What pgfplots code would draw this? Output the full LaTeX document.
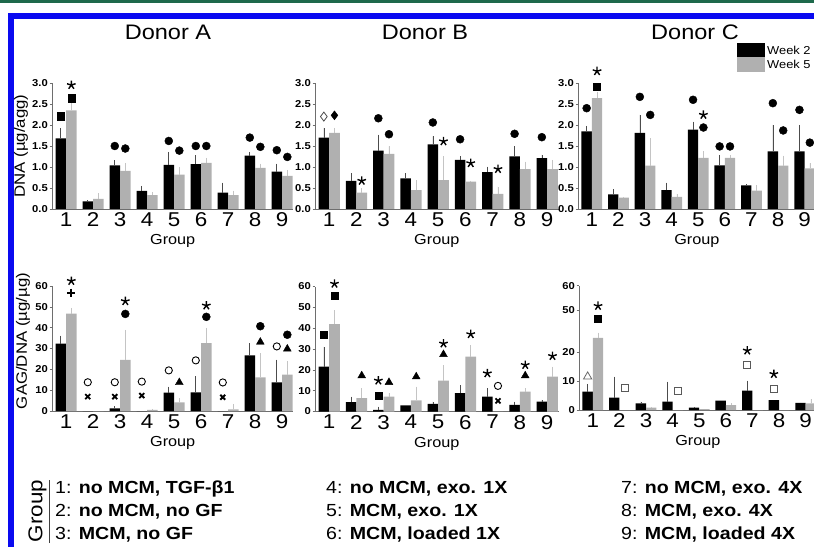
\documentclass[border=0pt]{standalone}
\usepackage{fontspec}
\setmainfont{Liberation Sans}[FakeStretch=1.12]
\usepackage{pgfplots}
\usepackage{pgfplotstable}
\pgfplotsset{compat=1.18}

\definecolor{bargray}{RGB}{176,176,176}
\definecolor{errgray}{RGB}{196,196,196}
\definecolor{axgray}{RGB}{110,110,110}
\definecolor{frameblue}{RGB}{10,10,240}
\definecolor{framegreen}{RGB}{30,105,75}

% columns: group, week2 mean, week2 error, week5 mean, week5 error
\pgfplotstableread{
g b be w we
1 1.68 0.24 2.35 0.24
2 0.18 0.03 0.24 0.13
3 1.04 0.12 0.91 0.19
4 0.43 0.12 0.33 0.08
5 1.05 0.31 0.82 0.18
6 1.07 0.21 1.10 0.12
7 0.39 0.24 0.33 0.11
8 1.27 0.09 0.98 0.10
9 0.89 0.19 0.79 0.14
}\dnaA
\pgfplotstableread{
g b be w we
1 1.70 0.23 1.81 0.12
2 0.67 0.18 0.39 0.10
3 1.39 0.38 1.31 0.18
4 0.73 0.12 0.45 0.24
5 1.54 0.19 0.69 0.56
6 1.17 0.08 0.65 0.02
7 0.88 0.13 0.36 0.17
8 1.25 0.24 0.95 0.18
9 1.21 0.08 0.95 0.22
}\dnaB
\pgfplotstableread{
g b be w we
1 1.85 0.13 2.64 0.14
2 0.35 0.12 0.27 0.02
3 1.81 0.43 1.03 0.66
4 0.45 0.18 0.29 0.07
5 1.89 0.19 1.22 0.15
6 1.04 0.25 1.22 0.07
7 0.56 0.03 0.44 0.12
8 1.37 0.63 1.03 0.24
9 1.37 0.63 0.97 0.12
}\dnaC
\pgfplotstableread{
g b be w we
1 32.3 3.9 46.8 2.7
2 0 0 0 0
3 1.3 1.1 24.6 14.4
4 0 0 0.5 0.5
5 8.8 2.9 4.2 1.9
6 9.0 7.6 32.6 7.3
7 0 0 0.8 2.6
8 26.7 5.9 16.2 11.6
9 13.8 10.9 17.5 6.4
}\gagA
\pgfplotstableread{
g b be w we
1 21.5 9.5 41.9 6.7
2 4.5 2.7 6.4 4.7
3 0.8 1.6 7.2 1.6
4 2.9 0 5.3 6.6
5 3.7 1.1 14.8 7.5
6 8.8 3.9 26.3 5.5
7 7.2 3.9 0 0
8 3.2 1.6 9.6 1.5
9 4.8 0.8 16.7 4.8
}\gagB
\pgfplotstableread{
g b be w we
1 6.3 2.7 24.9 1.8
2 4.3 7.2 0 0
3 2.3 0.6 0.8 0.3
4 2.9 6.9 0 0
5 0.8 0.3 0.3 0
6 3.2 0 1.7 0.6
7 6.7 3.4 0 0
8 3.4 0 0 0
9 2.5 0 2.3 1.4
}\gagC

\pgfplotsset{
  panel/.style={
    scale only axis, anchor=south west,
    axis lines=left, axis line style={-, axgray, line width=0.6pt},
    xmin=0.48, xmax=9.42, ymin=0, clip=false,
    xtick={1,2,3,4,5,6,7,8,9}, xticklabels={1,2,3,4,5,6,7,8,9},
    x tick style={draw=none},
    xticklabel style={font=\fontsize{20}{22}\selectfont, inner sep=0pt, yshift=-1pt},
    y tick style={axgray, line width=0.5pt},
    major tick length=2.5pt, tick align=outside,
    yticklabel style={font=\bfseries\fontsize{10}{12}\selectfont, inner sep=1.5pt},
    xlabel={Group},
    xlabel style={at={(axis description cs:0.5,0)}, anchor=center, yshift=-32pt, font=\fontsize{14.5}{16}\selectfont},
    ylabel style={font=\fontsize{15}{17}\selectfont, anchor=center},
  },
  dna/.style={panel, ymax=3, height=126pt,
    ytick={0,0.5,1,1.5,2,2.5,3}, yticklabels={0.0,0.5,1.0,1.5,2.0,2.5,3.0}},
  gag/.style={panel, ymax=60, height=125pt,
    ytick={0,10,20,30,40,50,60}, yticklabels={0,10,20,30,40,50,60}},
  blk/.style={ybar, bar width=0.39, bar shift=0pt, fill=black, draw=none,
    error bars/.cd, y dir=plus, y explicit, error mark=none,
    error bar style={line width=0.6pt, black!70}},
  gry/.style={ybar, bar width=0.39, bar shift=0pt, fill=bargray, draw=none,
    error bars/.cd, y dir=plus, y explicit, error mark=none,
    error bar style={line width=0.6pt, errgray}},
  fcirc/.style={only marks, mark=*, mark size=4pt, black},
  ocirc/.style={only marks, mark=o, mark size=3.6pt, black, mark options={line width=0.9pt}},
  fsq/.style={only marks, mark=square*, mark size=3.6pt, black},
  osq/.style={only marks, mark=square, mark size=3.5pt, black!65, mark options={line width=0.8pt}},
  stars/.style={only marks, mark=star, mark size=4.5pt, black, mark options={line width=1.4pt}},
  ftri/.style={only marks, mark=triangle*, mark size=4.5pt, black},
  otri/.style={only marks, mark=triangle, mark size=4.8pt, black!60, mark options={line width=0.8pt}},
  fdia/.style={only marks, mark=diamond*, mark size=4.5pt, black},
  odia/.style={only marks, mark=diamond, mark size=4.5pt, black!70, mark options={line width=0.8pt}},
  plusm/.style={only marks, mark=+, mark size=4pt, black, mark options={line width=2.2pt}},
  xm/.style={only marks, mark=x, mark size=3.5pt, black, mark options={line width=1.9pt}},
}

\begin{document}
\begin{tikzpicture}
\useasboundingbox (0,0) rectangle (814pt,547pt);
% frame
\fill[framegreen] (0,544pt) rectangle (814pt,547pt);
\fill[frameblue] (8pt,528pt) rectangle (814pt,534pt);
\fill[frameblue] (8pt,0) rectangle (14pt,534pt);

% titles
\node[font=\fontsize{21}{23}\selectfont] at (168pt,515pt) {Donor A};
\node[font=\fontsize{21}{23}\selectfont] at (425pt,515pt) {Donor B};
\node[font=\fontsize{21}{23}\selectfont] at (695pt,515pt) {Donor C};

% legend
\fill[black] (737pt,490pt) rectangle (765pt,504pt);
\fill[bargray] (737pt,475pt) rectangle (765pt,490pt);
\node[anchor=west, inner sep=1pt, font=\fontsize{11.5}{13}\selectfont] at (766pt,497pt) {Week 2};
\node[anchor=west, inner sep=1pt, font=\fontsize{11.5}{13}\selectfont] at (766pt,482.5pt) {Week 5};

%%%%%%%% Donor A DNA
\begin{axis}[dna, at={(52pt,338pt)}, width=241.4pt,
  ylabel={DNA (µg/agg)}, ylabel style={at={(axis description cs:-0.128,0.5)}}]
\addplot[blk] table[x expr=\thisrow{g}-0.195, y=b, y error=be]{\dnaA};
\addplot[gry] table[x expr=\thisrow{g}+0.195, y=w, y error=we]{\dnaA};
\addplot[fsq] coordinates {(0.805,2.21) (1.195,2.64)};
\addplot[stars] coordinates {(1.195,2.95)};
\addplot[fcirc] coordinates {(2.805,1.5) (3.195,1.44) (4.805,1.62) (5.195,1.39) (5.805,1.5) (6.195,1.5) (7.805,1.7) (8.195,1.48) (8.805,1.40) (9.195,1.24)};
\end{axis}

%%%%%%%% Donor B DNA
\begin{axis}[dna, at={(315pt,338pt)}, width=243.6pt]
\addplot[blk] table[x expr=\thisrow{g}-0.195, y=b, y error=be]{\dnaB};
\addplot[gry] table[x expr=\thisrow{g}+0.195, y=w, y error=we]{\dnaB};
\addplot[odia] coordinates {(0.805,2.2)};
\addplot[fdia] coordinates {(1.195,2.23)};
\addplot[stars] coordinates {(2.195,0.67) (5.195,1.61) (6.195,1.09) (7.195,0.95)};
\addplot[fcirc] coordinates {(2.805,2.16) (3.195,1.78) (4.805,2.06) (5.805,1.66) (7.805,1.79) (8.805,1.71)};
\end{axis}

%%%%%%%% Donor C DNA
\begin{axis}[dna, at={(578pt,338pt)}, width=237.8pt]
\addplot[blk] table[x expr=\thisrow{g}-0.195, y=b, y error=be]{\dnaC};
\addplot[gry] table[x expr=\thisrow{g}+0.195, y=w, y error=we]{\dnaC};
\addplot[fcirc] coordinates {(0.805,2.4) (2.805,2.67) (3.195,2.24) (4.805,2.6) (5.195,1.94) (5.805,1.49) (6.195,1.49) (7.805,2.52) (8.195,1.87) (8.805,2.36) (9.195,1.58)};
\addplot[fsq] coordinates {(1.195,2.92)};
\addplot[stars] coordinates {(1.195,3.28) (5.195,2.24)};
\end{axis}

%%%%%%%% Donor A GAG
\begin{axis}[gag, at={(52pt,136pt)}, width=241.4pt,
  ylabel={GAG/DNA (µg/µg)}, ylabel style={at={(axis description cs:-0.12,0.56)}}]
\addplot[blk] table[x expr=\thisrow{g}-0.195, y=b, y error=be]{\gagA};
\addplot[gry] table[x expr=\thisrow{g}+0.195, y=w, y error=we]{\gagA};
\addplot[stars] coordinates {(1.195,62.4) (3.195,52.7) (6.195,50.6)};
\addplot[plusm] coordinates {(1.195,56.8)};
\addplot[ocirc] coordinates {(1.805,13.8) (2.805,13.8) (3.805,14.1) (4.805,19.5) (5.805,24.3) (6.805,13.7) (8.805,31)};
\addplot[xm] coordinates {(1.805,6.9) (2.805,6.9) (3.805,7.4) (6.805,6.6)};
\addplot[fcirc] coordinates {(3.195,46.6) (6.195,45.2) (8.195,40.7) (9.195,36.6)};
\addplot[ftri] coordinates {(5.195,13.7) (8.195,33.1) (9.195,29.8)};
\end{axis}

%%%%%%%% Donor B GAG
\begin{axis}[gag, at={(315pt,135.5pt)}, width=243.6pt]
\addplot[blk] table[x expr=\thisrow{g}-0.195, y=b, y error=be]{\gagB};
\addplot[gry] table[x expr=\thisrow{g}+0.195, y=w, y error=we]{\gagB};
\addplot[fsq] coordinates {(0.805,37) (1.195,55.4) (2.805,7.6)};
\addplot[stars] coordinates {(1.195,61.3) (2.805,14.8) (5.195,32.6) (6.195,37.1) (6.805,18.3) (8.195,22.3) (9.195,26.6)};
\addplot[ftri] coordinates {(2.195,17.2) (3.195,14) (4.195,16.7) (5.195,27.4) (8.195,17.2)};
\addplot[ocirc] coordinates {(7.195,12.3)};
\addplot[xm] coordinates {(7.195,5.1)};
\end{axis}

%%%%%%%% Donor C GAG (broken axis: 50 and 60 drawn at 34.4 and 42.9)
\begin{axis}[panel, at={(579pt,137pt)}, width=237.8pt, ymax=42.9, height=124.3pt,
  ytick={0,10,20,34.4,42.9}, yticklabels={0,10,20,50,60}]
\addplot[blk] table[x expr=\thisrow{g}-0.195, y=b, y error=be]{\gagC};
\addplot[gry] table[x expr=\thisrow{g}+0.195, y=w, y error=we]{\gagC};
\addplot[otri] coordinates {(0.805,11.5)};
\addplot[fsq] coordinates {(1.195,31.6)};
\addplot[stars] coordinates {(1.195,35.9) (6.805,20.5) (7.805,12.4)};
\addplot[osq] coordinates {(2.195,7.5) (4.195,6.6) (6.805,15.4) (7.805,7.2)};
\end{axis}

% group key
\node[rotate=90, inner sep=0pt, font=\fontsize{20}{22}\selectfont] at (37.5pt,36pt) {Group};
\draw[line width=1pt, black!75] (49pt,4pt) -- (49pt,67pt);
\begin{scope}[every node/.style={anchor=west, inner sep=0pt, font=\fontsize{17.5}{19}\selectfont}]
\node at (55pt,58pt) {1: \textbf{no MCM, TGF-β1}};
\node at (55pt,35pt) {2: \textbf{no MCM, no GF}};
\node at (55pt,12pt) {3: \textbf{MCM, no GF}};
\node at (326pt,58pt) {4: \textbf{no MCM, exo. 1X}};
\node at (326pt,35pt) {5: \textbf{MCM, exo. 1X}};
\node at (326pt,12pt) {6: \textbf{MCM, loaded 1X}};
\node at (621pt,58pt) {7: \textbf{no MCM, exo. 4X}};
\node at (621pt,35pt) {8: \textbf{MCM, exo. 4X}};
\node at (621pt,12pt) {9: \textbf{MCM, loaded 4X}};
\end{scope}
\end{tikzpicture}
\end{document}
